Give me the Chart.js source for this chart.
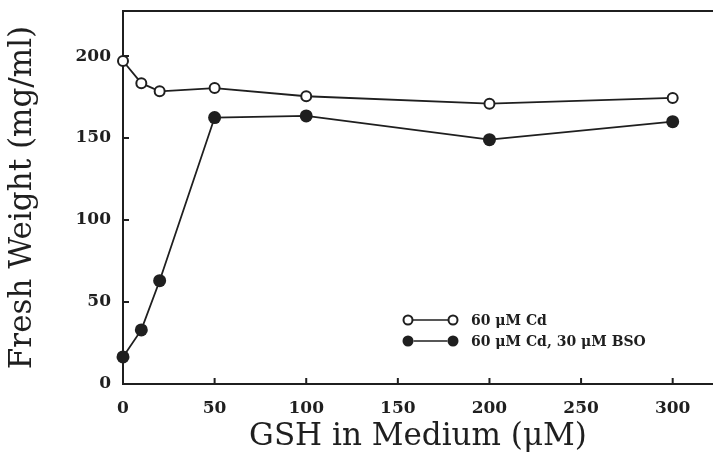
<!DOCTYPE html>
<html>
<head>
<meta charset="utf-8">
<script src="https://cdn.jsdelivr.net/npm/chart.js@4.4.1/dist/chart.umd.min.js"></script>
<style>
    html, body { margin: 0; padding: 0; background: #fff; }
    #wrap { width: 713px; height: 464px; }
</style>
</head>
<body>
<div id="wrap"><canvas id="fwChart" width="713" height="464"></canvas></div>
<script>
// Данные
const gshLevels = [0, 10, 20, 50, 100, 200, 300];
const cdOnly = [197, 183.5, 178.5, 180.5, 175.5, 171, 174.5];
const cdBso = [16.5, 33, 63, 162.5, 163.5, 149, 160];
const xTicks = [0, 50, 100, 150, 200, 250, 300];
const yTicks = [0, 50, 100, 150, 200];
const legendLabels = ['60 \u03BCM Cd', '60 \u03BCM Cd, 30 \u03BCM BSO'];

const ink = '#1f1f1f';

function toPoints(values) {
    return gshLevels.map((x, i) => ({ x: x, y: values[i] }));
}

// Внутренние засечки, верхняя рамка и легенда
const framePlugin = {
    id: 'frame',
    afterDraw(chart) {
        const ctx = chart.ctx;
        const area = chart.chartArea;
        const xs = chart.scales.x;
        const ys = chart.scales.y;
        ctx.save();
        ctx.strokeStyle = ink;
        ctx.lineWidth = 2;
        ctx.beginPath();
        ctx.moveTo(area.left, area.top);
        ctx.lineTo(area.right, area.top);
        xTicks.forEach(v => {
            const px = xs.getPixelForValue(v);
            ctx.moveTo(px, area.bottom);
            ctx.lineTo(px, area.bottom - 6);
        });
        yTicks.forEach(v => {
            const py = ys.getPixelForValue(v);
            ctx.moveTo(area.left, py);
            ctx.lineTo(area.left + 6, py);
        });
        ctx.stroke();

        // легенда
        const lx = 408, ly = 320, gap = 21;
        ctx.font = 'bold 14px "DejaVu Serif"';
        ctx.textBaseline = 'middle';
        ctx.fillStyle = ink;
        legendLabels.forEach((label, i) => {
            const y = ly + i * gap;
            const filled = i === 1;
            const r = filled ? 5.5 : 4.5;
            ctx.lineWidth = 1.6;
            ctx.beginPath();
            ctx.moveTo(lx + r, y);
            ctx.lineTo(lx + 45 - r, y);
            ctx.stroke();
            [lx, lx + 45].forEach(cx => {
                ctx.beginPath();
                ctx.arc(cx, y, r, 0, Math.PI * 2);
                if (filled) {
                    ctx.fill();
                } else {
                    ctx.lineWidth = 2;
                    ctx.stroke();
                }
            });
            ctx.fillText(label, lx + 63, y + 1);
        });
        ctx.restore();
    }
};

document.addEventListener('DOMContentLoaded', function() {
    const ctx = document.getElementById('fwChart');
    new Chart(ctx, {
        type: 'scatter',
        data: {
            datasets: [{
                label: legendLabels[0],
                data: toPoints(cdOnly),
                showLine: true,
                borderColor: ink,
                borderWidth: 1.8,
                pointRadius: 5,
                pointBorderWidth: 2,
                pointBackgroundColor: '#fff',
                pointBorderColor: ink
            }, {
                label: legendLabels[1],
                data: toPoints(cdBso),
                showLine: true,
                borderColor: ink,
                borderWidth: 1.8,
                pointRadius: 6.5,
                pointBorderWidth: 0,
                pointBackgroundColor: ink,
                pointBorderColor: ink
            }]
        },
        options: {
            responsive: false,
            animation: false,
            clip: false,
            layout: { autoPadding: false, padding: { top: 11, right: 0, left: 0, bottom: 0 } },
            plugins: {
                legend: { display: false },
                tooltip: { enabled: false }
            },
            scales: {
                x: {
                    type: 'linear',
                    min: 0,
                    max: 322,
                    afterFit(scale) {
                        scale.height = 80;
                        scale.paddingLeft = 0;
                        scale.paddingRight = 0;
                    },
                    afterBuildTicks(scale) { scale.ticks = xTicks.map(v => ({ value: v })); },
                    grid: { display: false, drawTicks: false },
                    border: { display: true, color: ink, width: 2 },
                    ticks: {
                        color: ink,
                        padding: 14,
                        font: { family: 'DejaVu Serif', size: 17, weight: 'bold' }
                    },
                    title: {
                        display: true,
                        text: 'GSH in Medium (\u03BCM)',
                        color: ink,
                        padding: { top: 0, bottom: 8 },
                        font: { family: 'DejaVu Serif', size: 31 }
                    }
                },
                y: {
                    type: 'linear',
                    min: 0,
                    max: 227.5,
                    afterFit(scale) {
                        scale.width = 123;
                        scale.paddingTop = 0;
                        scale.paddingBottom = 0;
                    },
                    afterBuildTicks(scale) { scale.ticks = yTicks.map(v => ({ value: v })); },
                    grid: { display: false, drawTicks: false },
                    border: { display: true, color: ink, width: 2 },
                    ticks: {
                        color: ink,
                        padding: 12,
                        font: { family: 'DejaVu Serif', size: 17, weight: 'bold' }
                    },
                    title: {
                        display: true,
                        text: 'Fresh Weight (mg/ml)',
                        color: ink,
                        padding: { top: 4, bottom: 0 },
                        font: { family: 'DejaVu Serif', size: 31 }
                    }
                }
            }
        },
        plugins: [framePlugin]
    });
});
</script>
</body>
</html>
